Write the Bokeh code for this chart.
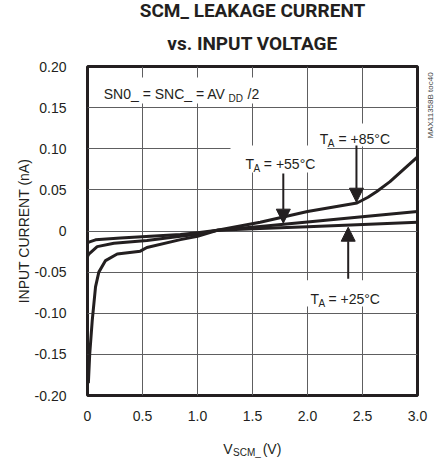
from bokeh.plotting import figure
from bokeh.models import (Range1d, FixedTicker, Label, BoxAnnotation, Arrow, NormalHead,
                          LinearAxis, Title)
from bokeh.embed import file_html
from bokeh.resources import INLINE
import math

# ---- data ----
x_ticks = [0, 0.5, 1.0, 1.5, 2.0, 2.5, 3.0]
x_tick_labels = ["0", "0.5", "1.0", "1.5", "2.0", "2.5", "3.0"]
y_ticks = [-0.20, -0.15, -0.10, -0.05, 0.0, 0.05, 0.10, 0.15, 0.20]
y_tick_labels = ["-0.20", "-0.15", "-0.10", "-0.05", "0", "0.05", "0.10", "0.15", "0.20"]

v_85 = [0.008, 0.02, 0.043, 0.073, 0.103, 0.164, 0.27, 0.48, 0.54, 0.845, 1.0, 1.18, 1.57, 2.0, 2.45, 2.55, 2.63, 2.75, 3.0]
i_85 = [-0.185, -0.15, -0.109, -0.068, -0.050, -0.036, -0.028, -0.0245, -0.020, -0.0105, -0.0065, 0.0008, 0.0107, 0.0237, 0.034, 0.041, 0.048, 0.060, 0.090]

v_55 = [0.0, 0.012, 0.088, 0.24, 0.54, 0.845, 1.0, 1.18, 1.57, 2.0, 2.45, 3.0]
i_55 = [-0.031, -0.028, -0.019, -0.0148, -0.0116, -0.0064, -0.004, 0.0008, 0.0055, 0.0110, 0.0168, 0.0237]

v_25 = [0.0, 0.012, 0.073, 0.3, 0.845, 1.0, 1.18, 1.57, 2.0, 2.45, 3.0]
i_25 = [-0.0145, -0.0136, -0.0107, -0.0085, -0.0043, -0.002, 0.0008, 0.003, 0.0053, 0.0077, 0.0107]

title_line1 = "SCM_ LEAKAGE CURRENT"
title_line2 = "vs. INPUT VOLTAGE"
y_title = "INPUT CURRENT (nA)"
side_code = "MAX11358B toc40"

INK = "#231f20"
GRID = "#5e5e60"
FONT = "Liberation Sans"

p = figure(frame_width=330, frame_height=329,
           min_border_left=87, min_border_right=20, min_border_top=66, min_border_bottom=63,
           x_range=Range1d(0, 3), y_range=Range1d(-0.2, 0.2),
           output_backend="svg", toolbar_location=None, tools="")

p.outline_line_color = INK
p.outline_line_width = 3
p.background_fill_color = "white"
p.border_fill_color = "white"

# title (two centred lines): p.title is the upper line, the added Title sits next to the frame
def style_title(t, standoff):
    t.align = "center"
    t.text_font = "Roboto"
    t.text_font_style = "bold"
    t.text_font_size = "19px"
    t.text_color = INK
    t.standoff = standoff

p.title.text = title_line1
style_title(p.title, -7)
t2 = Title(text=title_line2)
style_title(t2, 23)
p.add_layout(t2, "above")

def style_axis(ax, size="14px"):
    ax.axis_line_color = None
    ax.major_tick_line_color = None
    ax.minor_tick_line_color = None
    ax.major_tick_out = 0
    ax.major_tick_in = 0
    ax.major_label_text_font = FONT
    ax.major_label_text_font_size = size
    ax.major_label_text_color = INK

p.xaxis.ticker = FixedTicker(ticks=x_ticks)
p.yaxis.ticker = FixedTicker(ticks=y_ticks)
p.xaxis.major_label_overrides = dict(zip(x_ticks, x_tick_labels))
p.yaxis.major_label_overrides = dict(zip(y_ticks, y_tick_labels))
style_axis(p.xaxis[0])
style_axis(p.yaxis[0])
p.xaxis.major_label_standoff = 15
p.yaxis.major_label_standoff = 21

p.yaxis.axis_label = y_title
p.yaxis.axis_label_text_font = FONT
p.yaxis.axis_label_text_font_size = "14px"
p.yaxis.axis_label_text_font_style = "normal"
p.yaxis.axis_label_text_color = INK
p.yaxis.axis_label_standoff = 0

# x-axis title "V_SCM_ (V)" built from two label rows so the subscript can be smaller
ax_v = LinearAxis(ticker=FixedTicker(ticks=[1.277, 1.677]),
                  major_label_overrides={1.277: "V", 1.677: "(V)"})
style_axis(ax_v)
ax_v.major_label_standoff = 17
p.add_layout(ax_v, "below")

ax_sub = LinearAxis(ticker=FixedTicker(ticks=[1.45]), major_label_overrides={1.45: "SCM_"})
style_axis(ax_sub, "10px")
ax_sub.major_label_standoff = -13
p.add_layout(ax_sub, "below")

# side code on the right
ax_code = LinearAxis(ticker=FixedTicker(ticks=[0.1125]), major_label_overrides={0.1125: side_code},
                     major_label_orientation=math.pi / 2)
style_axis(ax_code, "8px")
ax_code.major_label_text_color = "#444444"
ax_code.major_label_standoff = 13
p.add_layout(ax_code, "right")

p.xgrid.ticker = FixedTicker(ticks=x_ticks)
p.ygrid.ticker = FixedTicker(ticks=y_ticks)
p.grid.grid_line_color = GRID
p.grid.grid_line_width = 1

# curves
for v, i in ((v_85, i_85), (v_55, i_55), (v_25, i_25)):
    p.line(v, i, line_color=INK, line_width=3, line_join="round")

# white boxes behind in-plot labels
for l, r, b, t in ((0.10, 1.59, 0.155, 0.1866),
                   (2.06, 2.82, 0.1027, 0.1307),
                   (1.30, 2.18, 0.0711, 0.104),
                   (1.98, 2.74, -0.0918, -0.060)):
    p.add_layout(BoxAnnotation(left=l, right=r, bottom=b, top=t,
                               fill_color="white", fill_alpha=1.0, line_color=None))

# arrows
for xs, ys, ye in ((2.445, 0.104, 0.035), (1.78, 0.070, 0.0095), (2.37, -0.058, 0.0046)):
    p.add_layout(Arrow(x_start=xs, y_start=ys, x_end=xs, y_end=ye,
                       line_color=INK, line_width=2,
                       end=NormalHead(size=14, fill_color=INK, line_color=INK, line_width=1)))

def dlab(x, y, text, size=14):
    p.add_layout(Label(x=x, y=y, text=text, text_font=FONT, text_font_size=f"{size}px",
                       text_color=INK, text_baseline="alphabetic"))

dlab(0.148, 0.166, "SN0_ = SNC_ = AV")
dlab(1.282, 0.161, "DD", 10)
dlab(1.455, 0.166, "/2")

dlab(2.112, 0.112, "T")
dlab(2.184, 0.1064, "A", 10)
dlab(2.282, 0.112, "= +85°C")

dlab(1.436, 0.0817, "T")
dlab(1.508, 0.076, "A", 10)
dlab(1.603, 0.0817, "= +55°C")

dlab(2.027, -0.0824, "T")
dlab(2.100, -0.088, "A", 10)
dlab(2.190, -0.0824, "= +25°C")

open("out.html", "w").write(file_html(p, INLINE))
